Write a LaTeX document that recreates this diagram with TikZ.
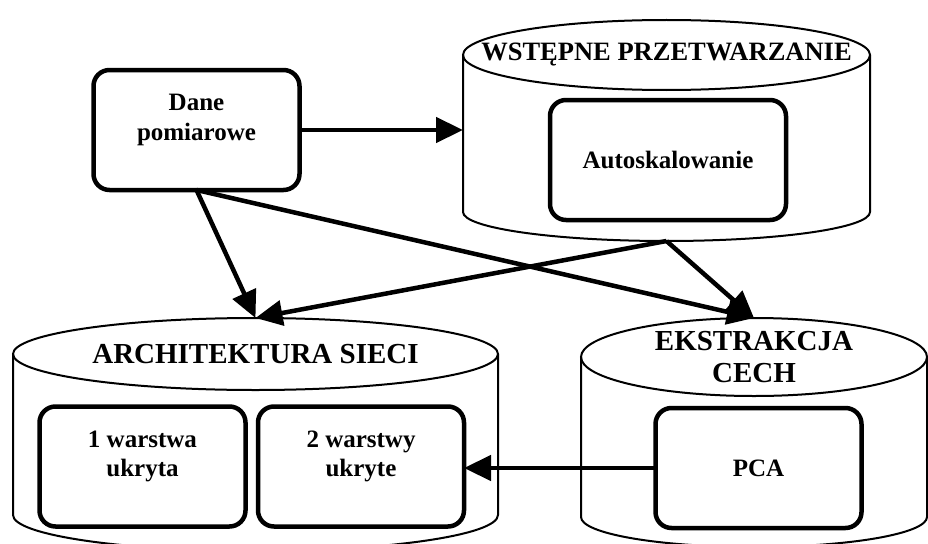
\documentclass[tikz,border=0pt]{standalone}
\usepackage{fontspec}
\setmainfont{Liberation Serif}
\usetikzlibrary{shapes.geometric, arrows.meta, calc}

\begin{document}
\begin{tikzpicture}[
    x=1pt, y=1pt,
    box/.style={draw, line width=4.5pt, rounded corners=16pt, minimum width=206pt,
                minimum height=120pt, outer sep=0pt, align=center,
                font=\bfseries\fontsize{25}{29}\selectfont},
    lid/.style={draw, ellipse, line width=2pt, inner sep=0pt, outer sep=0pt},
    body/.style={line width=2pt},
    title/.style={align=center, font=\bfseries\fontsize{29}{32}\selectfont},
    txt/.style={align=center, yshift=10pt, font=\bfseries\fontsize{25}{29.5}\selectfont},
    flow/.style={line width=4.5pt, -{Triangle[length=27pt, width=25pt]}}
]
    \useasboundingbox (0,0) rectangle (928,-543);

    % --- Cylinders ---
    \node[lid, minimum width=407pt, minimum height=70pt,
          label={[title, font=\bfseries\fontsize{26.5}{30}\selectfont]center:WSTĘPNE PRZETWARZANIE}]
          (wst) at (666.5,-55) {};
    \draw[body] (wst.west) -- ++(0,-157)
        arc[start angle=180, end angle=360, x radius=203.5pt, y radius=29pt] -- (wst.east);
    \coordinate (wstbot) at (666.5,-241);

    \node[lid, minimum width=485pt, minimum height=72pt,
          label={[title]center:ARCHITEKTURA SIECI}]
          (arch) at (255.5,-354) {};
    \draw[body] (arch.west) -- ++(0,-161)
        arc[start angle=180, end angle=360, x radius=242.5pt, y radius=36pt] -- (arch.east);

    \node[lid, minimum width=346pt, minimum height=78pt,
          label={[title]center:EKSTRAKCJA\\CECH}]
          (eks) at (754,-357) {};
    \draw[body] (eks.west) -- ++(0,-160)
        arc[start angle=180, end angle=360, x radius=173pt, y radius=30pt] -- (eks.east);

    % --- Boxes ---
    \node[box, label={[txt]center:Dane\\pomiarowe}] (dane) at (196.5,-130) {};
    \node[box, minimum width=236pt] (auto) at (668,-160) {Autoskalowanie};
    \node[box, label={[txt]center:1 warstwa\\ukryta}] (w1) at (142.5,-466.5) {};
    \node[box, label={[txt]center:2 warstwy\\ukryte}] (w2) at (361,-466.5) {};
    \node[box] (pca) at (758.5,-468) {PCA};

    % --- Arrows ---
    \draw[flow] (dane.east) -- (dane.east -| wst.west);
    \draw[flow] (dane.south) -- (arch.north);
    \draw[flow] (dane.south) -- (eks.north);
    \draw[flow] (wstbot) -- (arch.north);
    \draw[flow] (wstbot) -- (eks.north);
    \draw[flow] (pca.west) -- (pca.west -| w2.east);
\end{tikzpicture}
\end{document}
